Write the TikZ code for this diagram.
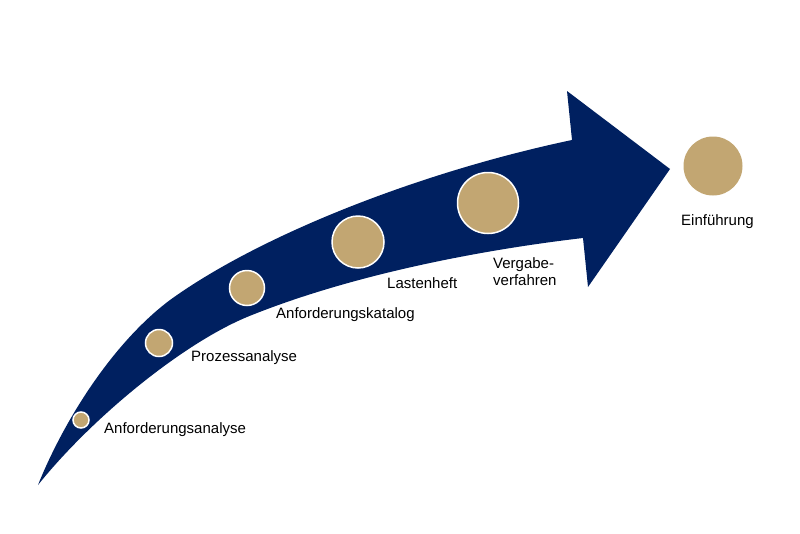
\documentclass[tikz,border=0pt]{standalone}
\usepackage{fontspec}
\setmainfont{Liberation Sans}
\definecolor{navy}{HTML}{002060}
\definecolor{sand}{HTML}{C2A672}

\begin{document}
\begin{tikzpicture}[x=1pt, y=-1pt,
  every node/.style = {font=\fontsize{15}{17}\selectfont, align=left},
  stage/.style = {circle, fill=sand, draw=white, line width=1.5pt, inner sep=0pt},
  caption/.style = {anchor=base west, inner sep=0pt}]
  \useasboundingbox (0,0) rectangle (800,533);
  % curved arrow
  \fill[navy] (38,485) .. controls (62,425) and (110,345) .. (170,300)
    .. controls (260,235) and (420,172) .. (572,140)
    -- (567,91) -- (670,169) -- (588,287) -- (583,238)
    .. controls (480,250) and (350,275) .. (247,317)
    .. controls (180,345) and (90,420) .. (38,485) -- cycle;
  % stages
  \node[stage, minimum size=16pt] (analyse) at (81,420) {};
  \node[stage, minimum size=27pt] (prozess) at (159,343) {};
  \node[stage, minimum size=35pt] (katalog) at (247,288) {};
  \node[stage, minimum size=52pt] (lastenheft) at (358,242) {};
  \node[stage, minimum size=61pt] (vergabe) at (488,203) {};
  \node[stage, draw=none, minimum size=59pt] (einfuehrung) at (713,166) {};
  \node[caption] (l-analyse) at (104,433) {Anforderungsanalyse};
  \node[caption] (l-prozess) at (191,361) {Prozessanalyse};
  \node[caption] (l-katalog) at (276,318) {Anforderungskatalog};
  \node[caption] (l-lastenheft) at (387,288) {Lastenheft};
  \node[caption] (l-vergabe) at (493,285) {Vergabe-\\verfahren};
  \node[caption] (l-einfuehrung) at (681,225) {Einführung};
\end{tikzpicture}
\end{document}
